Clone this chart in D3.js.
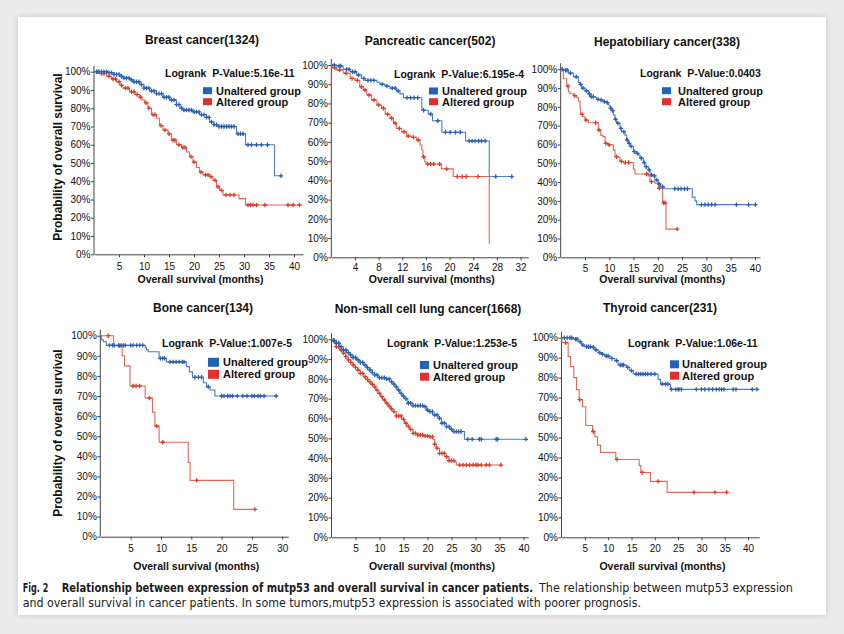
<!DOCTYPE html>
<html><head><meta charset="utf-8">
<script src="https://cdn.jsdelivr.net/npm/d3@7"></script>
<style>
html,body{margin:0;padding:0;background:#ececec;}
body{width:844px;height:634px;overflow:hidden;position:relative;}
#card{position:absolute;left:18px;top:17px;width:808px;height:598px;background:#fff;box-shadow:0 0 7px rgba(0,0,0,0.16);}
svg{position:absolute;left:0;top:0;}
</style></head><body><div id="card"></div><svg id="chart" width="844" height="634"></svg>
<script>
// ---------------- DATA ----------------
const yTickValues = [0,10,20,30,40,50,60,70,80,90,100];
const legendLabels = ["Unaltered group","Altered group"];
const panelTitles = ["Breast cancer(1324)","Pancreatic cancer(502)","Hepatobiliary cancer(338)","Bone cancer(134)","Non-small cell lung cancer(1668)","Thyroid cancer(231)"];
const logrankPValues = ["5.16e-11","6.195e-4","0.0403","1.007e-5","1.253e-5","1.06e-11"];
const xTicksBreast = [5,10,15,20,25,30,35,40];
const xTicksPancreatic = [4,8,12,16,20,24,28,32];
const xTicksHepato = [5,10,15,20,25,30,35,40];
const xTicksBone = [5,10,15,20,25,30];
const xTicksLung = [5,10,15,20,25,30,35,40];
const xTicksThyroid = [5,10,15,20,25,30,35,40];

// [months, survival %]
const breastUnalteredSteps = [[0,100],[2.8,99.5],[4,98.5],[5.1,97.5],[6,96.5],[7.1,95.5],[8,94.5],[9.1,93],[10,91],[11.1,89.5],[12.5,88],[13.8,86],[15.1,84.5],[16.5,82],[17.2,80],[17.8,79],[19.8,78],[21.1,76.5],[22.5,75],[23.1,72.5],[24,71],[24.6,70],[28.5,66],[30.3,60],[36.1,43]];
const breastUnalteredCensor = [0.5,1,1.5,2,2.5,3,3.5,4,4.5,5,5.5,6,6.5,7,7.5,8,8.5,9,9.5,10,10.5,11,11.5,12,12.5,13,13.5,14,14.5,15,15.5,16,16.5,17,17.5,18,18.5,19,19.5,20,20.5,21,21.5,22,22.5,23,23.5,24,24.5,25,25.5,26,26.5,27,27.5,28,28.8,29.3,29.8,30.8,31.5,32.5,33.5,34.7,37.4];
const breastAlteredSteps = [[0,100],[1,99],[2.5,97.5],[3.5,96],[4.5,94.5],[5.2,92.5],[5.8,91],[7.1,89],[8.2,87.5],[9.1,86],[9.6,84.5],[10.1,83],[10.8,80],[11.5,76.5],[12.5,74.5],[13.1,70.5],[13.8,68],[14.8,66],[15.5,62.5],[16.5,60],[17.5,58.5],[18.5,56],[19.1,53.5],[19.8,50.5],[20.5,47.5],[21.1,45],[21.8,43.5],[23.1,42.5],[23.8,40.5],[24.5,37],[25.1,35],[25.8,32.5],[29,30.5],[30.3,27]];
const breastAlteredCensor = [0.8,1.5,2,3,3.8,4.3,5,5.5,6.3,6.8,7.5,8,8.6,9.3,10.4,11,11.8,12.2,13.4,14.2,15,15.8,16.2,17,17.8,18.2,19.4,20,21.4,22.3,22.8,23.4,24.2,24.8,25.5,26.4,27.2,28,30.8,31.3,31.8,32.5,34.2,38.8,39.8,41.1];

const pancUnalteredSteps = [[0,100],[0.9,99.5],[2,97.7],[3.2,96.5],[4.3,94.8],[5.1,93],[5.7,92],[7.7,91],[8.2,90],[9.1,89],[9.9,88],[11,86.5],[11.6,85],[12.2,83],[15.3,76.5],[16.4,74.5],[17.1,71],[18.7,65],[22.7,60.5],[26.7,42]];
const pancUnalteredCensor = [0.5,1.3,1.6,2.6,3,3.6,4,4.6,5.5,6.2,6.7,7.2,8.6,9.4,10.3,10.8,11.3,12.8,13.4,14,14.6,15.6,16.8,18,19.3,20.1,21,21.8,23.3,23.8,24.3,24.9,25.4,26,27.8,30.5];
const pancAlteredSteps = [[0,100],[0.2,98.5],[0.9,97.4],[2,95.7],[3.2,93],[4,92],[4.8,88.7],[5.4,87],[6,84.4],[6.8,81.8],[7.7,79.2],[8.5,77.5],[9.1,74.4],[9.9,72.3],[10.5,69.7],[11,67],[11.9,65.3],[12.7,63],[13.6,62.4],[14.4,61],[15,58.4],[15.3,55.8],[15.5,52.3],[15.8,49.7],[16,48.5],[18.6,46],[20.6,42],[26.7,7]];
const pancAlteredCensor = [0.6,1.4,2.5,3.5,4.4,5.1,5.7,6.4,7.2,8,8.8,9.5,10.2,10.8,11.5,12.3,13,13.9,14.7,15.6,16.3,16.8,17.3,18.3,19.5,21.3,22.1,22.8,24.8];

const hepUnalteredSteps = [[0,100],[0.55,99.5],[1.58,98],[2.61,96],[3.64,93],[3.98,92],[4.32,90],[5.01,88.5],[5.7,87],[6.04,85.5],[7.07,85],[7.41,84],[8.1,83.7],[8.79,82.8],[9.47,82.3],[9.81,81],[10.16,79.3],[10.5,78],[10.84,75.7],[11.19,73.4],[11.53,71.3],[12.22,68.6],[12.56,66.8],[13.25,65],[13.59,62.4],[13.93,60.6],[14.28,59],[14.96,56.2],[15.65,55.3],[15.99,54.4],[16.33,52.7],[17.02,50.4],[17.36,48.2],[18.05,46.5],[18.39,43.8],[19.08,43.3],[19.42,41.1],[20.11,39],[20.59,37.5],[21.3,36.5],[27.1,32],[27.66,30],[28,28]];
const hepUnalteredCensor = [0.3,1,1.3,2,3.2,4.1,4.6,5.3,5.9,6.3,6.7,7.7,8.3,9,9.6,10.3,10.7,11.3,11.8,12.4,13,13.7,14.1,14.5,15.2,15.8,16.6,17.2,17.6,18.2,18.7,19.3,19.8,20.3,21,23.5,24.2,24.8,25.5,26.1,29,29.7,30.4,31.1,31.8,36.2,38.7,40.1];
const hepAlteredSteps = [[0,100],[0.55,95],[1.24,91],[1.58,88],[1.92,87],[2.61,86],[3.29,85],[3.64,83],[3.98,79.3],[4.12,76],[4.53,74.8],[5.01,73],[5.7,71.6],[7.76,67.7],[8.24,65],[8.65,64.2],[9.13,60.6],[9.81,59.8],[10.84,57],[11.19,53.5],[11.87,53.2],[12.22,51],[12.9,50.4],[14.96,46.8],[15.31,44.3],[18.05,43.3],[18.39,40.2],[19.42,39.4],[20.11,36.7],[21,29],[21.69,15]];
const hepAlteredCensor = [1.5,2.9,4.4,5.2,7.2,7.9,9.3,10,11.5,12.5,13.3,14,17.7,18.7,20.3,21.2,21.5,24];

const boneUnalteredSteps = [[0,100],[0.2,98],[0.5,97],[1,95.2],[7.4,94.2],[7.6,93],[7.9,92],[9.7,88.7],[10.9,87],[14.2,84.6],[14.7,82],[15.2,79.3],[17,76.6],[17.5,74.6],[18.1,73],[18.9,70]];
const boneUnalteredCensor = [1.5,2,2.3,3,3.4,3.8,4.1,5,5.4,6,6.5,7,9.9,10.3,10.6,11.5,12,12.5,13,13.5,13.8,15.6,16.2,16.7,17.8,20,20.4,21,21.4,21.8,22.6,23.5,24.2,25,25.4,26,26.4,27,29];
const boneAlteredSteps = [[0,100],[2.2,95],[3.6,90],[4,85],[4.9,75],[7.4,69],[8.6,62],[9,55],[9.7,47],[14.5,37],[14.8,28],[22,13.6]];
const boneAlteredCensor = [1.3,3.2,5.4,5.9,6.5,8.1,9.3,10.3,15.9,25.5];

const lungUnalteredSteps = [[0,100],[0.4,99.5],[1,98],[1.7,96.3],[2.4,94.6],[3.1,93.3],[3.8,92.1],[4.5,90.8],[5.2,89.6],[5.9,88.3],[6.6,87],[7.3,85.7],[8,84.5],[8.5,83.2],[9,82],[9.7,80.6],[11.4,80],[12.1,78.6],[12.6,77.4],[13.2,76],[13.7,74.4],[14.2,72.7],[14.7,71.3],[15.2,70],[15.9,67.7],[17,66.5],[19.1,66],[19.8,64.3],[20.4,63.5],[21.1,61.8],[22.2,60.1],[22.9,57.6],[23.9,55.9],[24.6,54.5],[25.3,53.4],[27.7,49.5]];
const lungUnalteredCensor = [0.5,1,1.5,2,2.5,3,3.5,4,4.5,5,5.5,6,6.5,7,7.5,8,8.5,9,9.5,10,10.5,11,11.5,12,12.5,13,13.5,14,14.5,15,15.5,16,16.5,17,17.5,18,18.5,19,19.5,20,20.5,21,21.5,22,22.5,23,23.5,24,24.5,25,25.5,26,26.5,27,28.4,29.3,30.8,31.2,34.3,34.6,40.5];
const lungAlteredSteps = [[0,100],[0.4,99],[1,96.3],[1.7,94.6],[2.4,93],[3,91.2],[3.5,89.6],[4,88.3],[4.5,87],[5,85.8],[5.5,84.5],[6,82.8],[6.6,81.1],[7.1,79.8],[7.6,78.6],[8.2,77.3],[8.7,76],[9.2,74.3],[9.7,72.7],[10.2,71],[10.7,69.4],[11.2,67.8],[11.8,66.3],[12.3,64.9],[12.8,63.5],[13.5,61.3],[14.6,59.6],[15.2,57.6],[15.7,56],[16.2,54.5],[17,52.5],[18,51.7],[19.1,51.2],[20.4,50.8],[21.1,49.5],[21.5,47],[21.8,45],[22.5,42.4],[23.6,40.7],[24.5,38.7],[25.6,38],[26,36.5]];
const lungAlteredCensor = [0.5,1,1.5,2,2.5,3,3.5,4,4.5,5,5.5,6,6.5,7,7.5,8,8.5,9,9.5,10,10.5,11,11.5,12,12.5,13,13.5,14,14.5,15,15.5,16,16.5,17,17.5,18,18.5,19,19.5,20,20.5,21,21.5,22,22.5,23,23.5,24,24.5,25,25.5,26.7,27.4,28.1,28.8,29.5,30.1,30.5,31.2,32.2,32.9,35.3];

const thyUnalteredSteps = [[0,100],[2.5,99.3],[3.57,98],[4.29,96.3],[5,95.5],[6.43,95.2],[7.14,93.9],[7.86,92.5],[8.57,91.7],[9.29,90.8],[10.36,89.6],[11.43,88.5],[12.14,86.3],[13.93,85.1],[14.64,83.5],[15.36,81.8],[20.71,79.1],[21.21,76.8],[23.36,74.1]];
const thyUnalteredCensor = [0.6,1.2,1.8,2.2,3,3.3,4,4.6,5.4,5.8,6.2,6.8,7.4,8.2,8.8,9.6,10,10.8,11.8,12.6,13,13.3,14.2,15,16,16.5,17,17.5,18,18.5,19.2,20,21.6,22.3,22.8,23.6,24.5,25,25.2,25.7,28.9,30,30.7,31.6,32.4,33.2,33.8,34.3,34.8,36.8,37.4,40.9,41.9];
const thyAlteredSteps = [[0,100],[0.1,97.5],[1.43,90.5],[1.93,85.5],[2.64,80],[3.21,74],[3.79,69],[4.5,65.4],[5.21,56],[6.64,53],[7.14,50.4],[7.71,46.2],[8.36,42.5],[11.64,39],[16.64,36],[17,32.5],[19.07,28],[22.64,22.5]];
const thyAlteredCensor = [0.9,3.9,6.8,11.9,17.3,20.7,28.4,32.9,35.4];

const captionBold1 = "Fig. 2";
const captionBold2 = "Relationship between expression of mutp53 and overall survival in cancer patients.";
const captionReg1 = "The relationship between mutp53 expression";
const captionReg2 = "and overall survival in cancer patients. In some tumors,mutp53 expression is associated with poorer prognosis.";

// ---------------- LAYOUT ----------------
const C = {blueLine:"#4d7fc3", blueMark:"#2c60ad", redLine:"#de6b5a", redMark:"#d83f2c", blueSq:"#1f64b8", redSq:"#e3302a"};
const layouts = [
 {x0:94, x1:303, xmax:41.8, yTop:71.7, yBot:254.3, ticks:xTicksBreast, tx:202, ty:44, lx:165, ly:77, sqx:203, sqw:9, sqh:7, tex:216, r1:90.7, r2:101.7, tickY:270, xtY:283, yTitle:157, u:breastUnalteredSteps, uc:breastUnalteredCensor, a:breastAlteredSteps, ac:breastAlteredCensor},
 {x0:331.3, x1:528.3, xmax:33.3, yTop:65, yBot:257.3, ticks:xTicksPancreatic, tx:430, ty:45, lx:394, ly:78, sqx:429, sqw:9, sqh:7, tex:442, r1:91, r2:101.7, tickY:271, xtY:283, u:pancUnalteredSteps, uc:pancUnalteredCensor, a:pancAlteredSteps, ac:pancAlteredCensor},
 {x0:560.7, x1:760, xmax:41.05, yTop:69.3, yBot:257.3, ticks:xTicksHepato, tx:667, ty:46, lx:640, ly:77, sqx:662, sqw:9, sqh:7, tex:678, r1:90.7, r2:101.7, tickY:272, xtY:283, u:hepUnalteredSteps, uc:hepUnalteredCensor, a:hepAlteredSteps, ac:hepAlteredCensor},
 {x0:100.3, x1:288.3, xmax:31, yTop:335.7, yBot:536.7, ticks:xTicksBone, tx:203, ty:312, lx:162, ly:347, sqx:208, sqw:11, sqh:9, tex:223, r1:362.3, r2:374.3, tickY:552, xtY:570, yTitle:433, u:boneUnalteredSteps, uc:boneUnalteredCensor, a:boneAlteredSteps, ac:boneAlteredCensor},
 {x0:331.5, x1:528.3, xmax:41, yTop:339.3, yBot:537.3, ticks:xTicksLung, tx:428, ty:313, lx:387, ly:347, sqx:420, sqw:9, sqh:8, tex:433, r1:365, r2:376.7, tickY:552, xtY:570, u:lungUnalteredSteps, uc:lungUnalteredCensor, a:lungAlteredSteps, ac:lungAlteredCensor},
 {x0:561.5, x1:759.3, xmax:42.4, yTop:337.7, yBot:537.3, ticks:xTicksThyroid, tx:660, ty:312, lx:628, ly:347, sqx:670, sqw:9, sqh:8, tex:682, r1:364.3, r2:375.7, tickY:552, xtY:570, u:thyUnalteredSteps, uc:thyUnalteredCensor, a:thyAlteredSteps, ac:thyAlteredCensor}
];

const svg = d3.select("#chart");
const FONT = "'Liberation Sans', Arial, Helvetica, sans-serif";

function survAt(steps, t){ let s = steps[0][1]; for (const p of steps){ if (p[0] <= t) s = p[1]; else break; } return s; }

layouts.forEach((L, i) => {
  const g = svg.append("g");
  const x = d3.scaleLinear().domain([0, L.xmax]).range([L.x0, L.x1]);
  const y = d3.scaleLinear().domain([0, 100]).range([L.yBot, L.yTop]);

  const ya = g.append("g").attr("transform", `translate(${L.x0},0)`)
    .call(d3.axisLeft(y).tickValues(yTickValues).tickSize(3).tickFormat(d => d + "%"));
  ya.select(".domain").remove();
  ya.selectAll("line").attr("stroke", "#444");
  ya.selectAll("text").attr("font-family", FONT).attr("font-size", 10).attr("fill", "#111").attr("x", -3.5);
  g.append("line").attr("x1", L.x0).attr("x2", L.x0).attr("y1", L.yTop - 6).attr("y2", L.yBot).attr("stroke", "#444").attr("stroke-width", 1);

  const xa = g.append("g").attr("transform", `translate(0,${L.yBot})`)
    .call(d3.axisBottom(x).tickValues(L.ticks).tickSize(3).tickSizeOuter(0));
  xa.select(".domain").attr("stroke", "#444");
  xa.selectAll("line").attr("stroke", "#444");
  xa.selectAll("text").attr("font-family", FONT).attr("font-size", 10).attr("fill", "#111").attr("dy", null).attr("y", L.tickY - L.yBot);

  g.append("text").attr("x", (L.x0 + L.x1) / 2 + 2).attr("y", L.xtY).attr("text-anchor", "middle")
    .attr("font-family", FONT).attr("font-weight", "bold").attr("font-size", 10.5).attr("fill", "#111").text("Overall survival (months)");

  if (L.yTitle !== undefined) {
    g.append("text").attr("transform", `translate(62,${L.yTitle}) rotate(-90)`).attr("text-anchor", "middle")
      .attr("font-family", FONT).attr("font-weight", "bold").attr("font-size", 12).attr("fill", "#111").text("Probability of overall survival");
  }

  g.append("text").attr("x", L.tx).attr("y", L.ty).attr("text-anchor", "middle")
    .attr("font-family", FONT).attr("font-weight", "bold").attr("font-size", 12).attr("fill", "#111").text(panelTitles[i]);
  g.append("text").attr("x", L.lx).attr("y", L.ly)
    .attr("font-family", FONT).attr("font-weight", "bold").attr("font-size", 10.5).attr("fill", "#111")
    .attr("xml:space", "preserve").text("Logrank  P-Value:" + logrankPValues[i]);

  [[L.r1, C.blueSq, legendLabels[0]], [L.r2, C.redSq, legendLabels[1]]].forEach(([ry, col, lab]) => {
    g.append("rect").attr("x", L.sqx).attr("y", ry - L.sqh / 2).attr("width", L.sqw).attr("height", L.sqh).attr("fill", col);
    g.append("text").attr("x", L.tex).attr("y", ry).attr("dy", "0.36em")
      .attr("font-family", FONT).attr("font-weight", "bold").attr("font-size", 11).attr("fill", "#111").text(lab);
  });

  const line = d3.line().x(d => x(d[0])).y(d => y(d[1])).curve(d3.curveStepAfter);
  [[L.a, L.ac, C.redLine, C.redMark], [L.u, L.uc, C.blueLine, C.blueMark]].forEach(([steps, cens, lc, mc]) => {
    const last = steps[steps.length - 1];
    const tEnd = Math.max(last[0], d3.max(cens));
    const pts = steps.concat(tEnd > last[0] ? [[tEnd, last[1]]] : []);
    g.append("path").attr("d", line(pts)).attr("fill", "none").attr("stroke", lc).attr("stroke-width", 1.1);
    const m = g.append("g");
    cens.forEach(t => {
      const cx = x(t), cy = y(survAt(steps, t));
      m.append("path").attr("d", `M${cx - 2.2},${cy}H${cx + 2.2}M${cx},${cy - 2.2}V${cy + 2.2}`)
        .attr("stroke", mc).attr("stroke-width", 1.3).attr("fill", "none");
    });
  });
});

// caption: one text element per line, tspans fitted to measured widths
const CF = "'Liberation Sans Narrow','Arial Narrow','DejaVu Sans Condensed','Liberation Sans',sans-serif";
function capLine(parts, yb){
  const t = svg.append("text").attr("y", yb).attr("font-family", CF).attr("font-size", 11.5);
  parts.forEach(([txt, x0, x1, bold, col]) => {
    t.append("tspan").attr("x", x0).attr("font-weight", bold ? "bold" : "normal").attr("fill", col)
      .attr("textLength", x1 - x0).attr("lengthAdjust", "spacingAndGlyphs").text(txt);
  });
}
capLine([[captionBold1, 22.7, 48.3, true, "#1b1b2b"], [captionBold2, 61.7, 533, true, "#1b1b1b"], [captionReg1, 539, 793, false, "#222"]], 591.5);
capLine([[captionReg2, 22.7, 641, false, "#222"]], 606.5);
</script></body></html>
